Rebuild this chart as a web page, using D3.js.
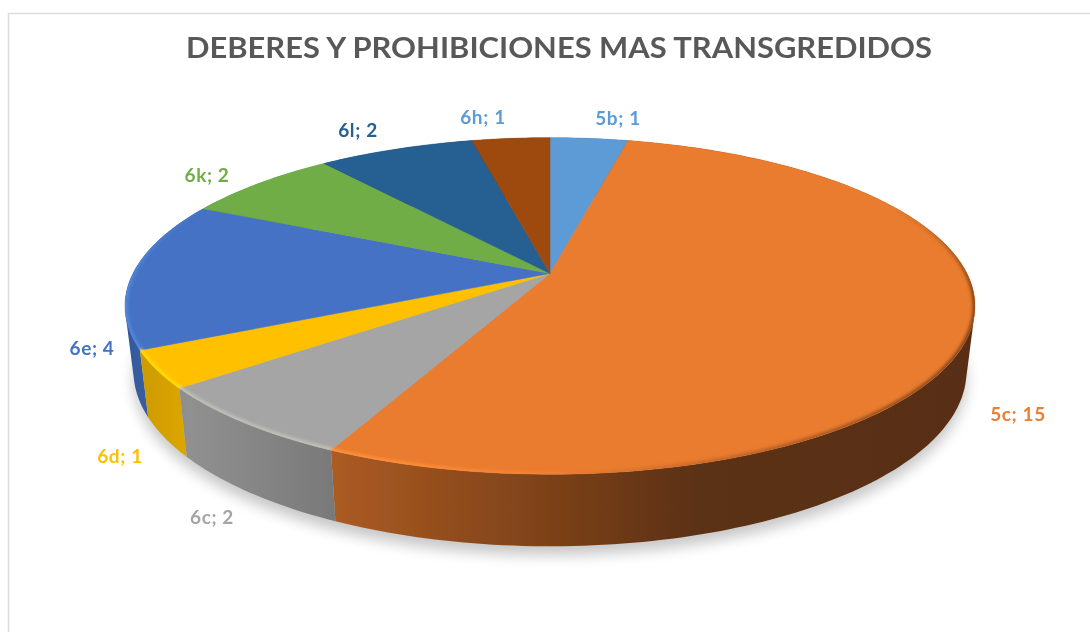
<!DOCTYPE html>
<html>
<head>
<meta charset="utf-8">
<script src="https://cdn.jsdelivr.net/npm/d3@7/dist/d3.min.js"></script>
<style>html,body{margin:0;padding:0;background:#fff;overflow:hidden}svg{display:block}</style>
</head>
<body>
<svg id="chart" width="1090" height="632"></svg>
<script>
const chartTitle = "DEBERES Y PROHIBICIONES MAS TRANSGREDIDOS";
const categories = ["5b","5c","6c","6d","6e","6k","6l","6h"];
const values = [1,15,2,1,4,2,2,1];
const colors = ["#5b9bd5","#e97b2f","#a5a5a5","#ffc000","#4472c4","#70ad47","#255e91","#9e480e"];
const labelColors = ["#5b9bd5","#ed7d31","#a5a5a5","#ffc000","#4472c4","#70ad47","#255e91","#5b9bd5"];

// layout
const W = 1090, H = 632;
const cx = 550, cy = 273.5, a = 417, b = 162, p = 0.193;
const sideScaleX = 0.98, sideScaleY = 1.04, sideDrop = 64;
const labelCentres = [[618,117],[1018,413],[212,516],[120,455],[92,347],[207,174],[358,129],[483,116]];

const svg = d3.select("#chart");
const defs = svg.append("defs");
const blur = (id, s) => defs.append("filter").attr("id", id)
  .attr("x","-20%").attr("y","-20%").attr("width","140%").attr("height","140%")
  .append("feGaussianBlur").attr("stdDeviation", s);
blur("shadow", 7); blur("rim", 1.5); blur("soft", 0.5); blur("softText", 0.3);

// projected position of a disc angle, clockwise from the top
const topPt = t => {
  const u = Math.sin(t), v = -Math.cos(t), w = 1 - p * v;
  return [cx + a * u / w, cy + b * v / w];
};
const botPt = t => {
  const [x, y] = topPt(t);
  return [cx + (x - cx) * sideScaleX, cy + (y - cy) * sideScaleY + sideDrop];
};
const line = d3.line();
const arcs = d3.pie().sort(null).value(d => d)(values);
const sampleAngles = (s, e, n) => d3.range(n + 1).map(i => s + (e - s) * i / n);

const shadeStops = [[124,0.78],[190,0.87],[340,0.73],[700,0.39],[975,0.38]];
const rimAtX = d3.scaleLinear().domain([124,340,560,760,975]).range([1.09,1.09,1.02,0.8,0.55]).clamp(true);
const shade = (col, f) => {
  const c = d3.rgb(col);
  if (f <= 1) return d3.rgb(c.r*f, c.g*f, c.b*f).formatHex();
  const k = f - 1;
  return d3.rgb(Math.min(255,c.r*(1+k)+255*k*0.6), Math.min(255,c.g*(1+k)+255*k*0.6), Math.min(255,c.b*(1+k)+255*k*0.2)).formatHex();
};

// frame
svg.append("path").attr("d", line([[8.5,H],[8.5,13.5],[W,13.5]]))
  .attr("fill","none").attr("stroke","#dcdcdc").attr("stroke-width",1.5);

// title
svg.append("text").attr("x",559).attr("y",57.5).attr("text-anchor","middle")
  .attr("font-family","Lato,'Open Sans',sans-serif").attr("font-weight",700)
  .attr("font-size",28).attr("fill","#595959").attr("filter","url(#softText)")
  .attr("textLength",746).attr("lengthAdjust","spacingAndGlyphs").text(chartTitle);

const pie = svg.append("g").attr("filter","url(#soft)");

// soft ground shadow, swept over the wall so its outline includes the right shoulder
const ring = sampleAngles(0, 2*Math.PI, 180);
svg.insert("path","g").attr("d", line(ring.map(botPt).map(([x,y]) => [x,y+9])) + "Z")
  .attr("fill","#000").attr("opacity",0.22).attr("filter","url(#shadow)");

// one horizontal side-wall gradient per slice
arcs.forEach((d,i) => {
  const g = defs.append("linearGradient").attr("id","side"+i)
    .attr("gradientUnits","userSpaceOnUse")
    .attr("x1",shadeStops[0][0]).attr("x2",shadeStops[shadeStops.length-1][0])
    .attr("y1",0).attr("y2",0);
  const x0 = shadeStops[0][0], span = shadeStops[shadeStops.length-1][0] - x0;
  shadeStops.forEach(([x,f]) => g.append("stop")
    .attr("offset",(x-x0)/span).attr("stop-color",shade(colors[i],f)));
});
// the wall of a slice is the union of narrow quads between its top and bottom arcs
const sideShape = d => {
  const n = Math.ceil((d.endAngle - d.startAngle) / 0.02) + 1;
  const as = sampleAngles(d.startAngle,d.endAngle,n);
  return d3.pairs(as).map(([s,e]) => {
    const quad = [topPt(s),topPt(e),botPt(e),botPt(s)];
    const area = d3.polygonArea(quad);
    return line(area < 0 ? quad.reverse() : quad) + "Z";
  }).join("");
};
const drawOrder = arcs.map((d,i)=>({d,i}))
  .sort((m,n) => Math.cos((n.d.startAngle+n.d.endAngle)/2) - Math.cos((m.d.startAngle+m.d.endAngle)/2));
pie.append("g").selectAll("path").data(drawOrder).join("path")
  .attr("d", o => sideShape(o.d)).attr("fill", o => `url(#side${o.i})`);

// top faces
const faceShape = d => {
  const n = Math.ceil((d.endAngle - d.startAngle) / 0.02) + 1;
  return line([[cx,cy], ...sampleAngles(d.startAngle,d.endAngle,n).map(topPt)]) + "Z";
};
pie.append("g").selectAll("path").data(arcs).join("path")
  .attr("d", faceShape)
  .attr("fill",(d,i)=>colors[i]).attr("stroke",(d,i)=>colors[i]).attr("stroke-width",0.5);

// bevel along the visible rim
const strips = [];
arcs.forEach((d,i) => {
  const n = Math.max(4, Math.ceil((d.endAngle - d.startAngle) / 0.015));
  d3.pairs(sampleAngles(d.startAngle, d.endAngle, n)).forEach(([s,e]) => strips.push({s,e,i}));
});
defs.append("clipPath").attr("id","discClip").append("path").attr("d", line(ring.map(topPt))+"Z");
const rimFade = d3.scaleLinear().domain([-0.45,0.1]).range([0,1]).clamp(true);
const rimG = pie.append("g").attr("clip-path","url(#discClip)").append("g").attr("filter","url(#rim)");
rimG.selectAll("path").data(strips.filter(d => -Math.cos(d.s) > -0.45)).join("path")
  .attr("d", d => line([topPt(d.s),topPt(d.e)]))
  .attr("fill","none").attr("stroke-width",5)
  .attr("stroke-opacity", d => rimFade(-Math.cos(d.s)))
  .attr("stroke", d => shade(colors[d.i], rimAtX(topPt(d.s)[0])));

// data labels
svg.append("g").attr("filter","url(#softText)").selectAll("text").data(categories).join("text")
  .attr("x",(d,i)=>labelCentres[i][0]).attr("y",(d,i)=>labelCentres[i][1])
  .attr("text-anchor","middle").attr("dominant-baseline","central")
  .attr("font-family","Lato,'Open Sans',sans-serif").attr("font-weight",700)
  .attr("font-size",19).attr("letter-spacing",0.6).attr("fill",(d,i)=>labelColors[i])
  .text((d,i)=>`${d}; ${values[i]}`);
</script>
</body>
</html>
